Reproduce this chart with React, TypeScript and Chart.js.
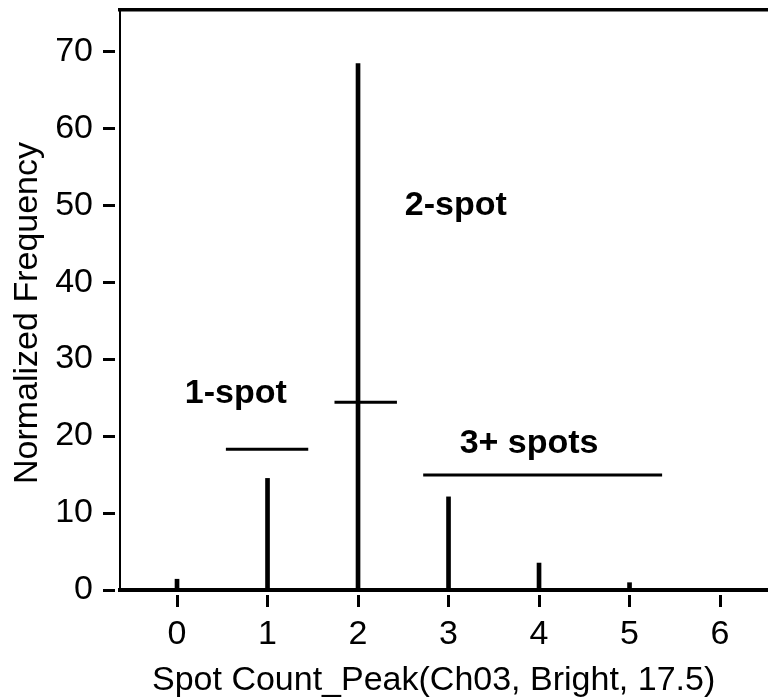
import React, { useEffect, useRef } from 'react';
import { Chart, registerables } from 'chart.js';

Chart.register(...registerables);

// ---- data ----
const spotCounts = [0, 1, 2, 3, 4, 5];
const frequencies = [1.4, 14.5, 68.4, 12.1, 3.5, 0.95];

const xTickValues = [0, 1, 2, 3, 4, 5, 6];
const yTickValues = [0, 10, 20, 30, 40, 50, 60, 70];

const gateNames = ['1-spot', '2-spot', '3+ spots'];
const gateStarts = [0.54, 1.74, 2.72];
const gateEnds = [1.45, 2.43, 5.36];
const gateLevels = [18.3, 24.4, 14.94];
const gateLabelX = [0.65, 3.08, 3.89];
const gateLabelY = [24.3, 48.7, 17.8];

const xTitle = 'Spot Count_Peak(Ch03, Bright, 17.5)';
const yTitle = 'Normalized Frequency';

const X_MIN = -0.63;
const X_MAX = 6.53;
const Y_MIN = 0;
const Y_MAX = 75.36;

const FONT = '"Liberation Sans", Arial, Helvetica, sans-serif';

const labelsPlugin = {
  id: 'gateLabelsAndTitles',
  afterDraw(chart: any) {
    const { ctx, chartArea, scales } = chart;
    const xs = scales.x;
    const ys = scales.y;
    ctx.save();
    ctx.fillStyle = '#000';
    ctx.font = `bold 34px ${FONT}`;
    ctx.textAlign = 'center';
    ctx.textBaseline = 'alphabetic';
    gateNames.forEach((name, i) => {
      ctx.fillText(name, xs.getPixelForValue(gateLabelX[i]), ys.getPixelForValue(gateLabelY[i]));
    });
    // x axis title
    ctx.font = `34px ${FONT}`;
    ctx.fillText(xTitle, (chartArea.left + chartArea.right) / 2 - 10.4, chartArea.bottom + 100);
    // y axis title
    ctx.translate(36.5, (chartArea.top + chartArea.bottom) / 2 + 13);
    ctx.rotate(-Math.PI / 2);
    ctx.fillText(yTitle, 0, 0);
    ctx.restore();
  },
};

export default function App() {
  const canvasRef = useRef<HTMLCanvasElement | null>(null);

  useEffect(() => {
    document.body.style.margin = '0';
    document.body.style.overflow = 'hidden';
    const canvas = canvasRef.current;
    if (!canvas) return;

    const datasets: any[] = [
      {
        type: 'bar',
        label: 'frequency',
        data: spotCounts.map((c, i) => ({ x: c, y: frequencies[i] })),
        backgroundColor: '#000',
        borderWidth: 0,
        barThickness: 4,
        xAxisID: 'x',
        yAxisID: 'y',
        order: 1,
      },
      ...gateNames.map((name, i) => ({
        type: 'line',
        label: name,
        data: [
          { x: gateStarts[i], y: gateLevels[i] },
          { x: gateEnds[i], y: gateLevels[i] },
        ],
        borderColor: '#000',
        borderWidth: 3,
        pointRadius: 0,
        fill: false,
        xAxisID: 'x',
        yAxisID: 'y',
        order: 0,
      })),
    ];

    const chart = new Chart(canvas, {
      type: 'bar',
      data: { datasets },
      plugins: [labelsPlugin],
      options: {
        animation: false,
        responsive: false,
        maintainAspectRatio: false,
        layout: { padding: 0 },
        plugins: {
          legend: { display: false },
          tooltip: { enabled: false },
          title: { display: false },
        },
        scales: {
          x: {
            type: 'linear',
            position: 'bottom',
            min: X_MIN,
            max: X_MAX,
            offset: false,
            grid: {
              display: true,
              offset: false,
              drawOnChartArea: false,
              drawTicks: true,
              tickLength: 17,
              tickWidth: 3,
              tickColor: '#000',
              tickBorderDash: [0, 3, 12, 100],
            },
            border: { display: true, width: 4, color: '#000' },
            ticks: {
              font: { family: FONT, size: 34 },
              color: '#000',
              padding: 7,
              maxRotation: 0,
              autoSkip: false,
            },
            afterBuildTicks: (s: any) => {
              s.ticks = xTickValues.map((v) => ({ value: v }));
            },
            afterFit: (s: any) => {
              s.height = 109;
              s.paddingLeft = 0;
              s.paddingRight = 0;
            },
          },
          xTop: {
            type: 'linear',
            position: 'top',
            display: true,
            min: 0,
            max: 1,
            grid: { display: false },
            ticks: { display: false },
            border: { display: true, width: 3.5, color: '#000' },
            afterFit: (s: any) => {
              s.height = 10;
              s.paddingLeft = 0;
              s.paddingRight = 0;
            },
          },
          y: {
            type: 'linear',
            position: 'left',
            min: Y_MIN,
            max: Y_MAX,
            grid: {
              display: true,
              drawOnChartArea: false,
              drawTicks: true,
              tickLength: 17,
              tickWidth: 3,
              tickColor: '#000',
              tickBorderDash: [12, 100],
            },
            border: { display: true, width: 2, color: '#000' },
            ticks: {
              font: { family: FONT, size: 34 },
              color: '#000',
              padding: 10,
              autoSkip: false,
            },
            afterBuildTicks: (s: any) => {
              s.ticks = yTickValues.map((v) => ({ value: v }));
            },
            afterFit: (s: any) => {
              s.width = 120;
              s.paddingTop = 0;
              s.paddingBottom = 0;
            },
          },
        },
      } as any,
    });

    return () => {
      chart.destroy();
    };
  }, []);

  return (
    <div style={{ width: 768, height: 699, overflow: 'hidden', background: '#fff' }}>
      <canvas ref={canvasRef} width={768} height={699} style={{ display: 'block' }} />
    </div>
  );
}
